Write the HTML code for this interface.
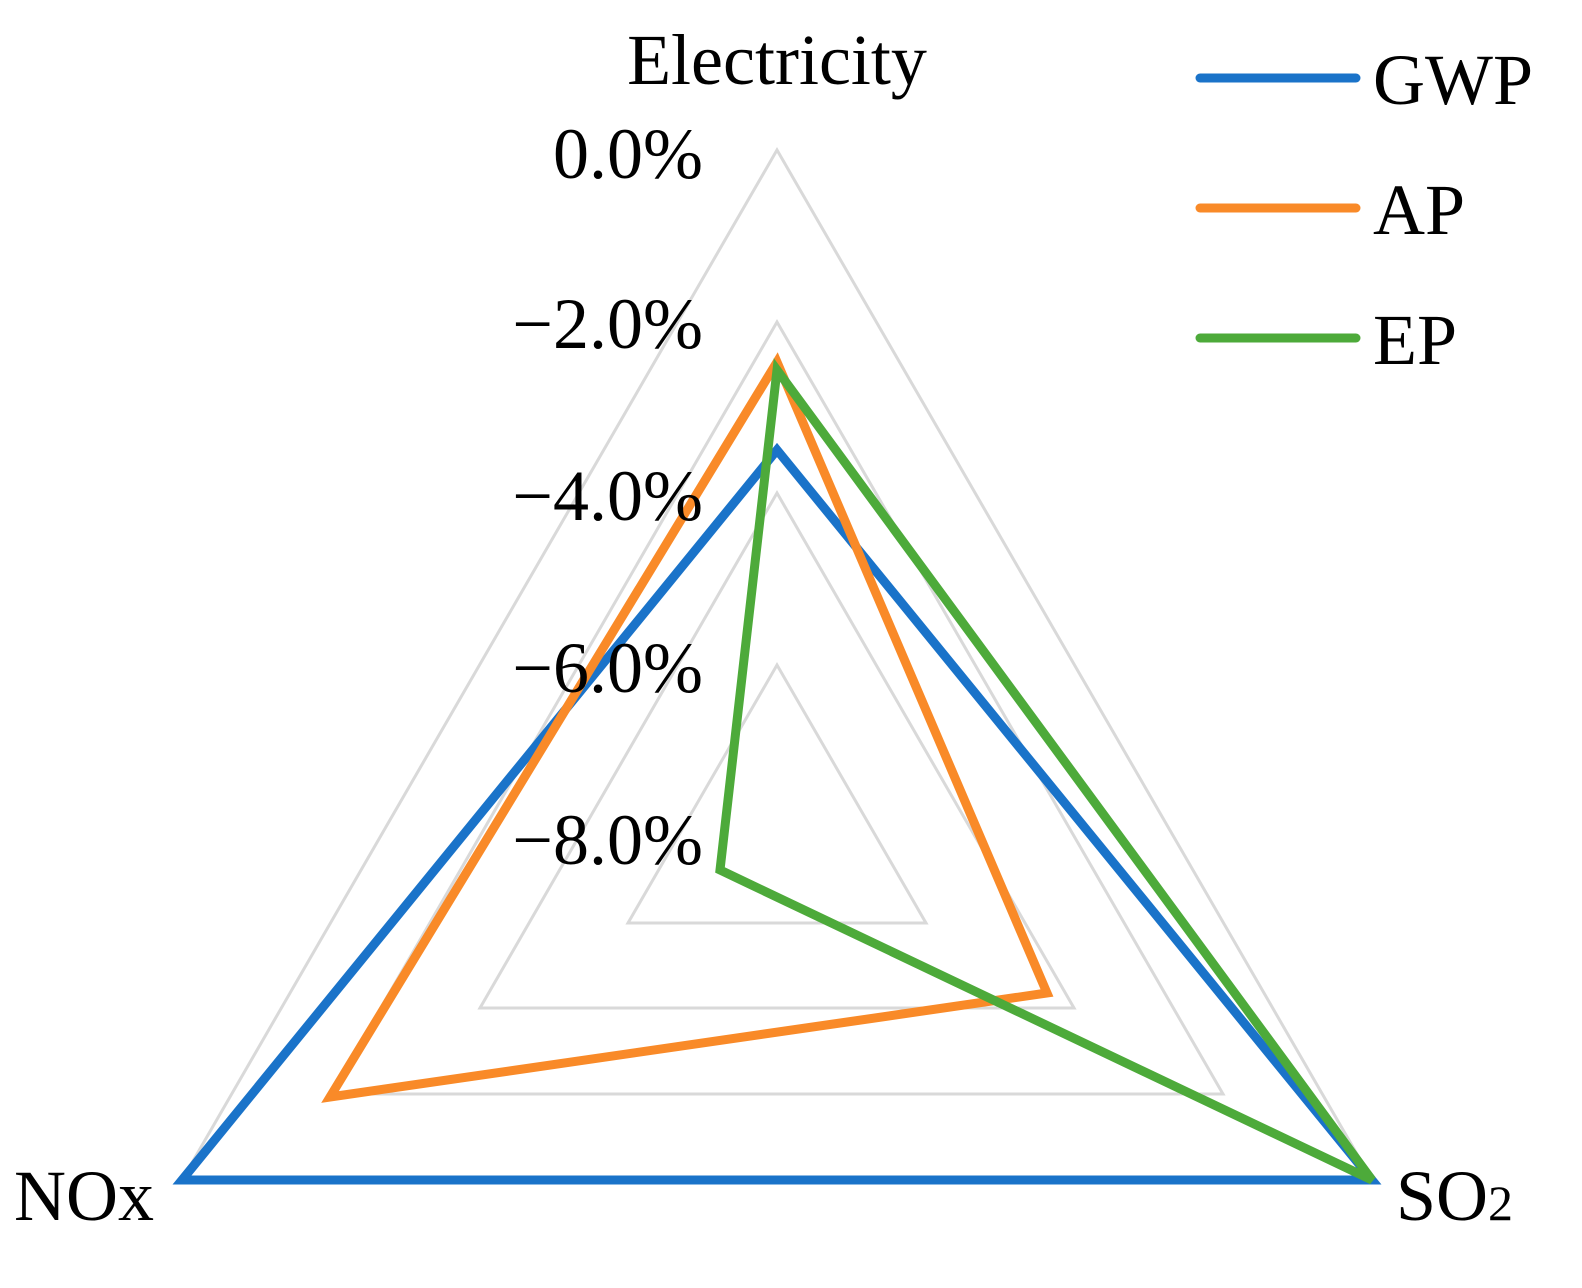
<!DOCTYPE html>
<html><head><style>body{margin:0;background:#fff}svg{display:block}</style></head>
<body>
<svg width="1582" height="1288" viewBox="0 0 1582 1288" xmlns="http://www.w3.org/2000/svg" font-family="Liberation Serif, serif">
<g fill="none" stroke="#d9d9d9" stroke-width="3">
<polygon points="777,150 1372,1180 182,1180"/>
<polygon points="777,322 1223,1094 331,1094"/>
<polygon points="777,493 1074,1008 480,1008"/>
<polygon points="777,665 926,923 628,923"/>
</g>
<g fill="none" stroke-width="9" stroke-linejoin="miter">
<polygon stroke="#1a73c9" points="777,450 1372,1180 182,1180"/>
<polygon stroke="#f98a28" points="777,362 1047,993 330,1097"/>
<polygon stroke="#4daa3a" points="777,370 1372,1180 720,870"/>
</g>
<g font-size="72" fill="#000">
<text x="777" y="84" text-anchor="middle">Electricity</text>
<text x="703" y="178" text-anchor="end">0.0%</text>
<text x="703" y="348" text-anchor="end">−2.0%</text>
<text x="703" y="520" text-anchor="end">−4.0%</text>
<text x="703" y="692" text-anchor="end">−6.0%</text>
<text x="703" y="864" text-anchor="end">−8.0%</text>
<text x="14" y="1220">NOx</text>
<text x="1396" y="1220">SO<tspan font-size="50">2</tspan></text>
<text x="1373" y="104">GWP</text>
<text x="1373" y="234">AP</text>
<text x="1373" y="364">EP</text>
</g>
<g stroke-width="9" stroke-linecap="round">
<line x1="1200" y1="78" x2="1356" y2="78" stroke="#1a73c9"/>
<line x1="1200" y1="208" x2="1356" y2="208" stroke="#f98a28"/>
<line x1="1200" y1="338" x2="1356" y2="338" stroke="#4daa3a"/>
</g>
</svg>
</body></html>
